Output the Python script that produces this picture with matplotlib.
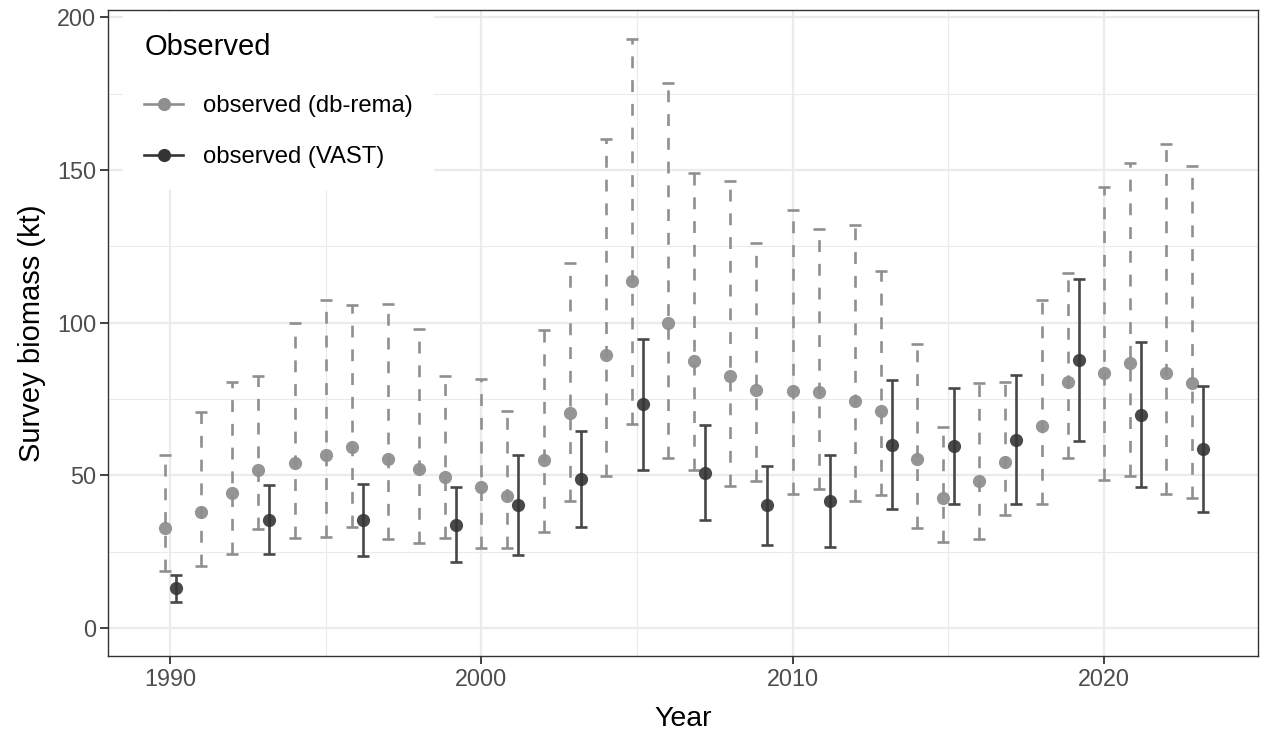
import matplotlib
matplotlib.use('Agg')
import matplotlib.pyplot as plt
from matplotlib.lines import Line2D
import numpy as np

plt.rcParams['font.family'] = ['Liberation Sans', 'DejaVu Sans']

# db-rema survey estimates (kt)
rema_years = list(range(1990, 2024))
rema_obs = [32.6, 37.9, 44.3, 51.6, 54.0, 56.5, 59.1, 55.4, 52.2, 49.3,
            46.1, 43.3, 55.1, 70.3, 89.4, 113.5, 99.9, 87.5, 82.5, 77.8,
            77.5, 77.2, 74.2, 71.2, 55.2, 42.7, 48.2, 54.3, 66.2, 80.5,
            83.6, 86.8, 83.5, 80.2]
rema_lo = [18.7, 20.4, 24.3, 32.3, 29.3, 29.7, 32.9, 29.2, 27.9, 29.4,
           26.1, 26.3, 31.3, 41.4, 49.9, 66.9, 55.7, 51.6, 46.6, 48.2,
           43.8, 45.6, 41.6, 43.4, 32.7, 28.0, 29.1, 36.9, 40.7, 55.8,
           48.3, 49.6, 43.9, 42.5]
rema_hi = [56.7, 70.7, 80.5, 82.6, 99.8, 107.5, 105.9, 106.2, 97.8, 82.4,
           81.5, 71.1, 97.5, 119.6, 160.0, 193.0, 178.6, 148.9, 146.3, 125.9,
           136.8, 130.7, 132.0, 116.8, 92.9, 65.7, 80.2, 80.5, 107.5, 116.3,
           144.5, 152.4, 158.5, 151.3]

# VAST survey estimates (kt)
vast_years = [1990, 1993, 1996, 1999, 2001, 2003, 2005, 2007, 2009, 2011,
              2013, 2015, 2017, 2019, 2021, 2023]
vast_obs = [13.0, 35.4, 35.2, 33.8, 40.3, 48.7, 73.2, 50.7, 40.1, 41.4,
            60.0, 59.5, 61.7, 87.6, 69.8, 58.6]
vast_lo = [8.6, 24.3, 23.5, 21.6, 23.9, 33.0, 51.8, 35.2, 27.2, 26.4,
           38.9, 40.6, 40.7, 61.1, 46.1, 37.9]
vast_hi = [17.4, 46.7, 47.1, 46.1, 56.7, 64.5, 94.7, 66.4, 53.1, 56.6,
           81.1, 78.5, 82.8, 114.3, 93.7, 79.3]

# dodge: shift only where both sources have a value
both = set(rema_years) & set(vast_years)
rema_x = np.array([y - 0.17 if y in both else y for y in rema_years], float)
vast_x = np.array([y + 0.19 if y in both else y for y in vast_years], float)

c_rema = '#8f8f8f'
c_vast = '#353535'

fig = plt.figure(figsize=(12.73, 7.35), dpi=100)
ax = fig.add_axes([0.0848, 0.1075, 0.9034, 0.879])

ro = np.array(rema_obs)
eb = ax.errorbar(rema_x, ro, yerr=[ro - np.array(rema_lo), np.array(rema_hi) - ro],
                 fmt='none', ecolor=c_rema, elinewidth=1.9, capsize=4.5,
                 capthick=1.9, zorder=3)
eb[2][0].set_linestyle((0, (4.5, 4.5)))
ax.plot(rema_x, ro, 'o', color=c_rema, ms=9.5, mew=0, alpha=0.95, zorder=4)

vo = np.array(vast_obs)
ax.errorbar(vast_x, vo, yerr=[vo - np.array(vast_lo), np.array(vast_hi) - vo],
            fmt='none', ecolor='#484848', elinewidth=1.9, capsize=4,
            capthick=1.9, zorder=5)
ax.plot(vast_x, vo, 'o', color=c_vast, ms=9.5, mew=0, alpha=0.9, zorder=6)

ax.set_xlim(1988.0, 2024.95)
ax.set_ylim(-9.2, 202.4)
ax.set_xticks([1990, 2000, 2010, 2020])
ax.set_yticks([0, 50, 100, 150, 200])
ax.set_xticks([1995, 2005, 2015], minor=True)
ax.set_yticks([25, 75, 125, 175], minor=True)
ax.grid(which='major', color='#ebebeb', lw=1.6, zorder=0)
ax.grid(which='minor', color='#ebebeb', lw=0.8, zorder=0)
ax.set_axisbelow(True)
ax.tick_params(which='major', length=5.5, width=1.3, color='#333333',
               labelsize=16.8, labelcolor='#4d4d4d', pad=3)
ax.tick_params(which='minor', length=0)
for s in ax.spines.values():
    s.set_color('#333333')
    s.set_linewidth(1.0)

ax.set_xlabel('Year', fontsize=20.5, labelpad=11)
ax.set_ylabel('Survey biomass (kt)', fontsize=21, labelpad=8)

handles = [Line2D([], [], color=c_rema, lw=1.9, marker='o', ms=9.5, mew=0),
           Line2D([], [], color=c_vast, lw=1.9, marker='o', ms=9.5, mew=0)]
leg = ax.legend(handles, ['observed (db-rema)', 'observed (VAST)'],
                title='Observed', loc='upper left', bbox_to_anchor=(0.013, 0.997),
                fontsize=17.2, title_fontsize=21, frameon=True, fancybox=False,
                edgecolor='none', facecolor='white', framealpha=1,
                handlelength=1.6, handletextpad=0.85, labelspacing=1.2,
                borderpad=0.9, borderaxespad=0)
leg._legend_box.align = 'left'
leg._legend_box.sep = 24.5
leg.set_zorder(10)

fig.savefig('out.png', dpi=100)
